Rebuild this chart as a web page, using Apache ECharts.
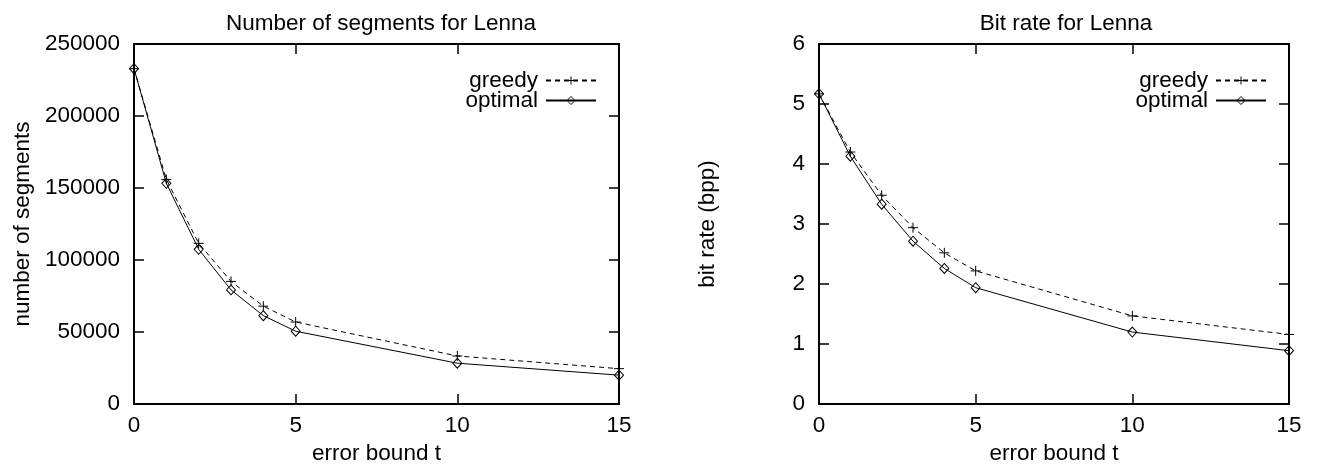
<!DOCTYPE html>
<html>
<head>
<meta charset="utf-8">
<script src="https://cdn.jsdelivr.net/npm/echarts@6/dist/echarts.min.js"></script>
<style>
  html, body { margin: 0; padding: 0; background: #fff; }
  #chart { width: 1319px; height: 470px; }
</style>
</head>
<body>
<div id="chart"></div>
<script>
// error bound t (shared x values)
const errorBound = [0, 1, 2, 3, 4, 5, 10, 15];

// number of segments for Lenna
const segGreedy = [232900, 156000, 111600, 85200, 68000, 57000, 33400, 24600];
const segOptimal = [232900, 153300, 107500, 79300, 61400, 50600, 28400, 20100];

// bit rate (bpp) for Lenna
const bppGreedy = [5.17, 4.20, 3.48, 2.94, 2.52, 2.22, 1.47, 1.16];
const bppOptimal = [5.17, 4.13, 3.33, 2.715, 2.26, 1.94, 1.20, 0.89];

const FONT = "'Liberation Sans', Arial, sans-serif";
const FS = 22.5;
const PLUS = 'path://M0,5L10,5M5,0L5,10';

const pairs = (ys) => errorBound.map((x, i) => [x, ys[i]]);

const lineSeries = (name, ys, gi, dashed) => ({
  name,
  type: 'line',
  xAxisIndex: gi * 2,
  yAxisIndex: gi * 2,
  data: pairs(ys),
  symbol: dashed ? PLUS : 'diamond',
  symbolSize: dashed ? 10 : [9, 10],
  showSymbol: true,
  lineStyle: { color: '#000', width: 1, type: dashed ? [5, 4] : 'solid' },
  itemStyle: { color: 'transparent', borderColor: '#000', borderWidth: 1 },
  emphasis: { disabled: true },
});

const frameLine = { show: true, onZero: false, lineStyle: { color: '#000', width: 2 } };
const tickIn = { show: true, inside: true, length: 10, lineStyle: { color: '#000', width: 1.5 } };
const lbl = { color: '#000', fontFamily: FONT, fontSize: FS };

const xAxes = (gi) => [
  {
    type: 'value', gridIndex: gi, position: 'bottom', min: 0, max: 15, interval: 5,
    axisLine: frameLine, axisTick: tickIn, splitLine: { show: false },
    axisLabel: Object.assign({ margin: 10 }, lbl),
    name: 'error bound t', nameLocation: 'middle', nameGap: 34,
    nameTextStyle: lbl,
  },
  {
    type: 'value', gridIndex: gi, position: 'top', min: 0, max: 15, interval: 5,
    axisLine: frameLine, axisTick: tickIn, splitLine: { show: false },
    axisLabel: { show: false },
  },
];

const yAxes = (gi, max, interval, name) => [
  {
    type: 'value', gridIndex: gi, position: 'left', min: 0, max, interval,
    axisLine: frameLine, axisTick: tickIn, splitLine: { show: false },
    axisLabel: Object.assign({ margin: 14, formatter: (v) => String(v) }, lbl),
    name, nameLocation: 'middle', nameRotate: 90, nameGap: 100,
    nameTextStyle: lbl,
  },
  {
    type: 'value', gridIndex: gi, position: 'right', min: 0, max, interval,
    axisLine: frameLine, axisTick: tickIn, splitLine: { show: false },
    axisLabel: { show: false },
  },
];

const legendItem = (name) => ({
  name,
  itemStyle: { color: 'transparent', borderColor: '#000', borderWidth: 1 },
});

const legendBox = (right) => ({
  orient: 'vertical', align: 'right', right, top: 64,
  itemWidth: 50, itemHeight: 10, itemGap: -3,
  textStyle: Object.assign({ padding: [0, 3, 0, 0] }, lbl), selectedMode: false,
  data: [legendItem('greedy'), legendItem('optimal')],
});

const chart = echarts.init(document.getElementById('chart'), null, { renderer: 'canvas' });
chart.setOption({
  animation: false,
  backgroundColor: '#fff',
  title: [
    { text: 'Number of segments for Lenna', left: 376, top: 7, textAlign: 'center',
      textStyle: { color: '#000', fontFamily: FONT, fontSize: FS, fontWeight: 'normal' } },
    { text: 'Bit rate for Lenna', left: 1061, top: 7, textAlign: 'center',
      textStyle: { color: '#000', fontFamily: FONT, fontSize: FS, fontWeight: 'normal' } },
  ],
  legend: [legendBox(717), legendBox(47)],
  grid: [
    { left: 134, right: 700, top: 44, bottom: 57 },
    { left: 819, right: 30, top: 44, bottom: 57 },
  ],
  xAxis: [...xAxes(0), ...xAxes(1)],
  yAxis: [...yAxes(0, 250000, 50000, 'number of segments'), ...yAxes(1, 6, 1, 'bit rate (bpp)')],
  series: [
    lineSeries('greedy', segGreedy, 0, true),
    lineSeries('optimal', segOptimal, 0, false),
    lineSeries('greedy', bppGreedy, 1, true),
    lineSeries('optimal', bppOptimal, 1, false),
  ],
});
</script>
</body>
</html>
